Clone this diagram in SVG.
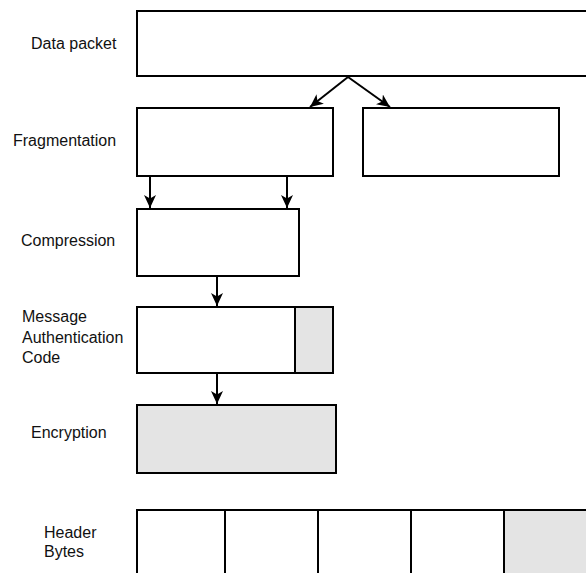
<svg xmlns="http://www.w3.org/2000/svg" width="586" height="573" viewBox="0 0 586 573">
  <style>
    .box { fill: #ffffff; stroke: #000000; stroke-width: 2; }
    .shade { fill: #e4e4e4; stroke: #000000; stroke-width: 2; }
    .div { stroke: #000000; stroke-width: 2; fill: none; }
    .lbl { font-family: "Liberation Sans", Arial, Helvetica, sans-serif; font-size: 16px; fill: #111111; }
    .conn { stroke: #000000; stroke-width: 2; fill: none; marker-end: url(#arrow); }
  </style>
  <defs>
    <marker id="arrow" viewBox="0 0 13 12" refX="13" refY="6" markerWidth="13" markerHeight="12" markerUnits="userSpaceOnUse" orient="auto">
      <path d="M0,0 L13,6 L0,12 L3.5,6 Z" fill="#000000"/>
    </marker>
  </defs>

  <rect width="586" height="573" fill="#ffffff"/>

  <!-- labels -->
  <g id="labels">
    <text class="lbl" x="31" y="49">Data packet</text>
    <text class="lbl" x="13" y="146">Fragmentation</text>
    <text class="lbl" x="21" y="246">Compression</text>
    <text class="lbl" x="22" y="322">Message</text>
    <text class="lbl" x="22" y="343">Authentication</text>
    <text class="lbl" x="22" y="363">Code</text>
    <text class="lbl" x="31" y="438">Encryption</text>
    <text class="lbl" x="44" y="538">Header</text>
    <text class="lbl" x="44" y="557">Bytes</text>
  </g>

  <!-- stages -->
  <g id="data-packet">
    <rect class="box" x="137" y="11" width="460" height="65"/>
  </g>
  <g id="fragment-1">
    <rect class="box" x="137" y="108" width="196" height="68"/>
  </g>
  <g id="fragment-2">
    <rect class="box" x="363" y="108" width="196" height="68"/>
  </g>
  <g id="compression">
    <rect class="box" x="137" y="209" width="162" height="67"/>
  </g>
  <g id="mac">
    <rect class="box" x="137" y="307" width="196" height="66"/>
    <rect class="shade" x="295" y="307" width="38" height="66"/>
  </g>
  <g id="encryption">
    <rect class="shade" x="137" y="405" width="199" height="68"/>
  </g>
  <g id="header-bytes">
    <rect class="box" x="137" y="510" width="460" height="80"/>
    <rect class="shade" x="504" y="510" width="93" height="80"/>
    <line class="div" x1="225" y1="510" x2="225" y2="580"/>
    <line class="div" x1="318" y1="510" x2="318" y2="580"/>
    <line class="div" x1="411" y1="510" x2="411" y2="580"/>
  </g>

  <!-- connectors -->
  <g id="connectors">
    <line class="conn" x1="348" y1="77" x2="310" y2="107"/>
    <line class="conn" x1="348" y1="77" x2="390" y2="107"/>
    <line class="conn" x1="150" y1="177" x2="150" y2="208"/>
    <line class="conn" x1="287" y1="177" x2="287" y2="208"/>
    <line class="conn" x1="217" y1="276" x2="217" y2="306"/>
    <line class="conn" x1="217" y1="373" x2="217" y2="404"/>
  </g>
</svg>
